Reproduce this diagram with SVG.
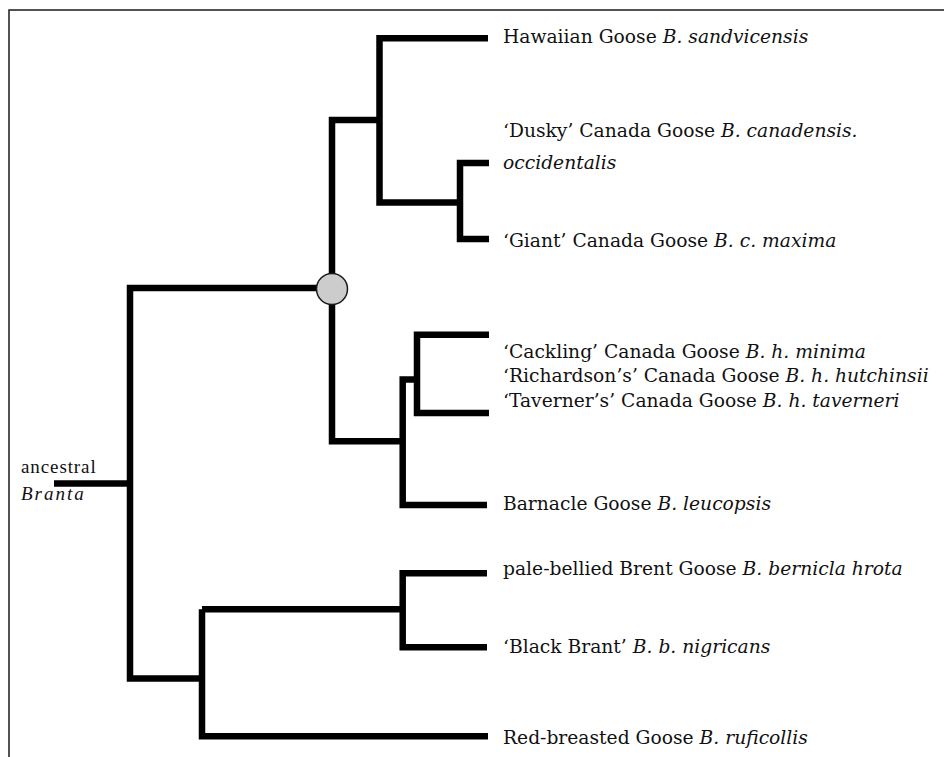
<svg xmlns="http://www.w3.org/2000/svg" width="944" height="757" viewBox="0 0 944 757">
<style>
.frame{fill:none;stroke:#1a1a1a;stroke-width:1.5}
.br{fill:none;stroke:#000;stroke-width:6.5;stroke-linecap:butt;stroke-linejoin:miter}
.lab{font-family:"DejaVu Serif","Liberation Serif",serif;font-size:18.7px;fill:#111}
.it{font-style:italic}
.anc{font-family:"Liberation Serif","Times New Roman",serif;font-size:19px;fill:#111}
.hub{fill:#cccccc;stroke:#1a1a1a;stroke-width:1.5}
</style>
<rect x="0" y="0" width="944" height="757" fill="#fff"/>
<path class="frame" d="M9,757 V10 H944"/>
<g id="connectors">
<path class="br" d="M54,483.5 H130"/>
<path class="br" d="M332,288 H130 V678.5 H202"/>
<path class="br" d="M332,288 V120 H379.5"/>
<path class="br" d="M488,38.3 H379.5 V202.5 H460"/>
<path class="br" d="M489,163 H460 V239 H489"/>
<path class="br" d="M332,288 V441.3 H402.7"/>
<path class="br" d="M487,505 H402.7 V379.5 H417"/>
<path class="br" d="M489,334.7 H417 V413 H489"/>
<path class="br" d="M202,609.3 H402.7"/>
<path class="br" d="M202,609.3 V736.3 H488"/>
<path class="br" d="M487,573.3 H402.7 V647.3 H487"/>
</g>
<g id="node-hub"><circle class="hub" cx="332" cy="289" r="15.5"/></g>
<g id="node-ancestral">
<text class="anc" x="21" y="473" letter-spacing="0.9">ancestral</text>
<text class="anc it" x="21" y="500" letter-spacing="2">Branta</text>
</g>
<g id="node-hawaiian"><text class="lab" x="503" y="42.5">Hawaiian Goose <tspan class="it">B. sandvicensis</tspan></text></g>
<g id="node-dusky"><text class="lab" x="503" y="137">‘Dusky’ Canada Goose <tspan class="it">B. canadensis.</tspan></text><text class="lab it" x="503" y="169">occidentalis</text></g>
<g id="node-giant"><text class="lab" x="503" y="247">‘Giant’ Canada Goose <tspan class="it">B. c. maxima</tspan></text></g>
<g id="node-cackling"><text class="lab" x="503" y="357.5">‘Cackling’ Canada Goose <tspan class="it">B. h. minima</tspan></text></g>
<g id="node-richardson"><text class="lab" x="503" y="382">‘Richardson’s’ Canada Goose <tspan class="it">B. h. hutchinsii</tspan></text></g>
<g id="node-taverner"><text class="lab" x="503" y="407">‘Taverner’s’ Canada Goose <tspan class="it">B. h. taverneri</tspan></text></g>
<g id="node-barnacle"><text class="lab" x="503" y="510">Barnacle Goose <tspan class="it">B. leucopsis</tspan></text></g>
<g id="node-palebellied"><text class="lab" x="503" y="575">pale-bellied Brent Goose <tspan class="it">B. bernicla hrota</tspan></text></g>
<g id="node-blackbrant"><text class="lab" x="503" y="653">‘Black Brant’ <tspan class="it">B. b. nigricans</tspan></text></g>
<g id="node-redbreasted"><text class="lab" x="503" y="744">Red-breasted Goose <tspan class="it">B. ruficollis</tspan></text></g>
</svg>
